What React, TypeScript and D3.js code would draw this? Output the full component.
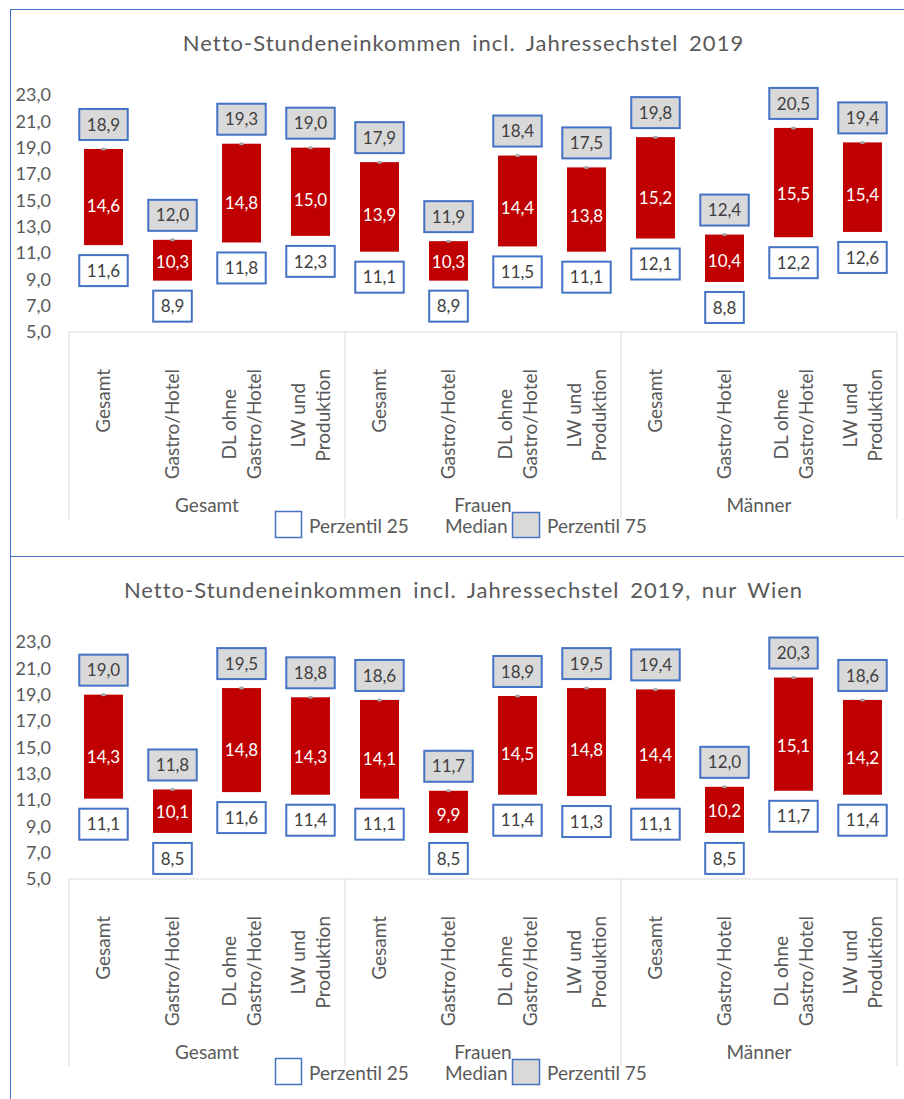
import React, { useEffect, useRef } from "react";
import * as d3 from "d3";

const categories = ["Gesamt", "Gastro/Hotel", "DL ohne\nGastro/Hotel", "LW und\nProduktion"];
const groups = ["Gesamt", "Frauen", "Männer"];
const yTicks = [5, 7, 9, 11, 13, 15, 17, 19, 21, 23];
const legendLabels = ["Perzentil 25", "Median", "Perzentil 75"];

const titleAll = "Netto-Stundeneinkommen incl. Jahressechstel 2019";
const p25All = [11.6, 8.9, 11.8, 12.3, 11.1, 8.9, 11.5, 11.1, 12.1, 8.8, 12.2, 12.6];
const medianAll = [14.6, 10.3, 14.8, 15.0, 13.9, 10.3, 14.4, 13.8, 15.2, 10.4, 15.5, 15.4];
const p75All = [18.9, 12.0, 19.3, 19.0, 17.9, 11.9, 18.4, 17.5, 19.8, 12.4, 20.5, 19.4];

const titleWien = "Netto-Stundeneinkommen incl. Jahressechstel 2019, nur Wien";
const p25Wien = [11.1, 8.5, 11.6, 11.4, 11.1, 8.5, 11.4, 11.3, 11.1, 8.5, 11.7, 11.4];
const medianWien = [14.3, 10.1, 14.8, 14.3, 14.1, 9.9, 14.5, 14.8, 14.4, 10.2, 15.1, 14.2];
const p75Wien = [19.0, 11.8, 19.5, 18.8, 18.6, 11.7, 18.9, 19.5, 19.4, 12.0, 20.3, 18.6];

const FONT = "Lato, 'Open Sans', sans-serif";
const fmt = (v: number) => d3.format(".1f")(v).replace(".", ",");

function drawChart(svg: any, oy: number, title: string, p25: number[], med: number[], p75: number[]) {
  const g = svg.append("g").attr("transform", `translate(0,${oy})`);
  g.append("rect")
    .attr("x", 10.5).attr("y", 9.5).attr("width", 907).attr("height", 547)
    .attr("fill", "#fff").attr("stroke", "#4472C4").attr("stroke-width", 1);

  g.append("text")
    .attr("x", 463.5).attr("y", 51)
    .attr("text-anchor", "middle")
    .attr("font-family", FONT).attr("font-size", 22).attr("letter-spacing", 1)
    .attr("word-spacing", 4)
    .attr("fill", "#595959")
    .text(title);

  const y = d3.scaleLinear().domain([5, 23]).range([332, 95]);
  const idx = d3.range(p25.length);
  const x = d3.scaleBand<number>().domain(idx).range([69, 897]).paddingInner(0.435).paddingOuter(0.2175);
  const xg = d3.scaleBand<string>().domain(groups).range([69, 897]);
  const bw = x.bandwidth();

  // y labels
  g.selectAll(".ylab").data(yTicks).join("text")
    .attr("x", 51).attr("y", (d: number) => y(d)).attr("dy", "0.36em")
    .attr("text-anchor", "end")
    .attr("font-family", FONT).attr("font-size", 18).attr("fill", "#595959")
    .text((d: number) => fmt(d));

  // category axis line & separators
  g.append("line").attr("x1", 69).attr("x2", 897).attr("y1", y(5)).attr("y2", y(5))
    .attr("stroke", "#D9D9D9").attr("stroke-width", 1);
  const seps = [...groups.map((d) => xg(d) as number), 897];
  g.selectAll(".sep").data(seps).join("line")
    .attr("x1", (d: number) => d).attr("x2", (d: number) => d)
    .attr("y1", y(5)).attr("y2", 519)
    .attr("stroke", "#D9D9D9").attr("stroke-width", 1);

  // bars
  g.selectAll(".bar").data(idx).join("rect")
    .attr("x", (i: number) => x(i) as number)
    .attr("y", (i: number) => y(p75[i]))
    .attr("width", bw)
    .attr("height", (i: number) => y(p25[i]) - y(p75[i]))
    .attr("fill", "#C00000");

  // markers at p75
  g.selectAll(".mk").data(idx).join("ellipse")
    .attr("cx", (i: number) => (x(i) as number) + bw / 2)
    .attr("cy", (i: number) => y(p75[i]))
    .attr("rx", 2.5).attr("ry", 1.5)
    .attr("fill", "#A5A5A5");

  // median labels
  g.selectAll(".med").data(idx).join("text")
    .attr("x", (i: number) => (x(i) as number) + bw / 2)
    .attr("y", (i: number) => y(med[i])).attr("dy", "0.36em")
    .attr("text-anchor", "middle")
    .attr("font-family", FONT).attr("font-size", 17).attr("fill", "#fff")
    .text((i: number) => fmt(med[i]));

  // boxed labels
  const boxLabel = (vals: number[], fill: string, above: boolean) => {
    idx.forEach((i) => {
      const cx = (x(i) as number) + bw / 2;
      const bh = 31;
      const top = above ? y(vals[i]) - 9 - bh : y(vals[i]) + 10;
      const lg = g.append("g");
      const rect = lg.append("rect");
      const t = lg.append("text")
        .attr("x", cx).attr("y", top + bh / 2).attr("dy", "0.36em")
        .attr("text-anchor", "middle")
        .attr("font-family", FONT).attr("font-size", 17).attr("fill", "#404040")
        .text(fmt(vals[i]));
      const w = (t.node() as SVGTextElement).getComputedTextLength() + 15;
      rect.attr("x", cx - w / 2).attr("y", top).attr("width", w).attr("height", bh)
        .attr("fill", fill).attr("stroke", "#4472C4").attr("stroke-width", 2);
    });
  };
  boxLabel(p75, "#D9D9D9", true);
  boxLabel(p25, "#FFFFFF", false);

  // category labels (rotated)
  const catFs = 19;
  const lineGap = 25;
  idx.forEach((i) => {
    const label = categories[i % categories.length];
    const lines = label.split("\n");
    const cx = (x(i) as number) + bw / 2;
    const texts = lines.map((ln, li) => {
      const bx = cx + (li - (lines.length - 1) / 2) * lineGap + 6.5;
      return g.append("text")
        .attr("text-anchor", "middle")
        .attr("font-family", FONT).attr("font-size", catFs).attr("fill", "#595959")
        .attr("data-bx", bx)
        .text(ln);
    });
    const maxLen = d3.max(texts, (t: any) => (t.node() as SVGTextElement).getComputedTextLength()) as number;
    const cy = 369 + maxLen / 2;
    texts.forEach((t: any) => {
      const bx = +t.attr("data-bx");
      t.attr("transform", `translate(${bx},${cy}) rotate(-90)`);
    });
  });

  // group labels
  g.selectAll(".grp").data(groups).join("text")
    .attr("x", (d: string) => (xg(d) as number) + xg.bandwidth() / 2)
    .attr("y", 512)
    .attr("text-anchor", "middle")
    .attr("font-family", FONT).attr("font-size", 19).attr("fill", "#595959")
    .text((d: string) => d);

  // legend
  g.append("rect").attr("x", 275.5).attr("y", 511.5).attr("width", 26).attr("height", 26)
    .attr("fill", "#fff").attr("stroke", "#4472C4").attr("stroke-width", 1.5);
  g.append("text").attr("x", 309).attr("y", 533)
    .attr("font-family", FONT).attr("font-size", 19).attr("fill", "#595959").text(legendLabels[0]);
  g.append("text").attr("x", 445).attr("y", 533)
    .attr("font-family", FONT).attr("font-size", 19).attr("fill", "#595959").text(legendLabels[1]);
  g.append("rect").attr("x", 512.5).attr("y", 512.5).attr("width", 27).attr("height", 25)
    .attr("fill", "#D9D9D9").attr("stroke", "#4472C4").attr("stroke-width", 1.5);
  g.append("text").attr("x", 547).attr("y", 533)
    .attr("font-family", FONT).attr("font-size", 19).attr("fill", "#595959").text(legendLabels[2]);
}

export default function App() {
  const ref = useRef<SVGSVGElement | null>(null);
  useEffect(() => {
    const svg = d3.select(ref.current);
    const draw = () => {
      svg.selectAll("*").remove();
      drawChart(svg, 0, titleAll, p25All, medianAll, p75All);
      drawChart(svg, 547, titleWien, p25Wien, medianWien, p75Wien);
    };
    draw();
    if ((document as any).fonts && (document as any).fonts.ready) {
      (document as any).fonts.ready.then(draw);
    }
  }, []);
  return (
    <svg
      ref={ref}
      width={904}
      height={1099}
      style={{ position: "absolute", left: 0, top: 0, background: "#fff" }}
    />
  );
}
